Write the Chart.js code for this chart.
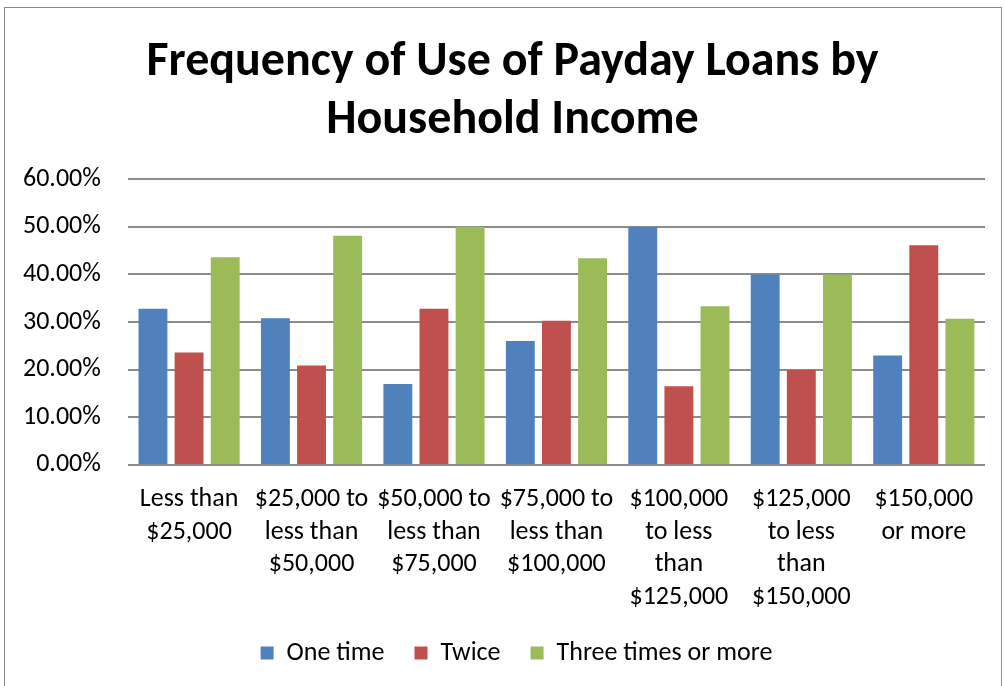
<!DOCTYPE html>
<html>
<head>
<meta charset="utf-8">
<script src="https://cdn.jsdelivr.net/npm/chart.js@4.4.1/dist/chart.umd.min.js"></script>
<style>
  body { margin: 0; background: #fff; }
  #frame {
    position: absolute; left: 4px; top: 7px;
    width: 996px; height: 700px;
    border: 1px solid #8c8c8c; border-bottom: none;
  }
  #wrap { position: absolute; left: 0; top: 0; width: 1005px; height: 686px; }
</style>
</head>
<body>
<div id="frame"></div>
<div id="wrap"><canvas id="chart" width="1005" height="686"></canvas></div>
<script>
// ---- DATA ----
const incomeGroups = [
    ['Less than', '$25,000'],
    ['$25,000 to', 'less than', '$50,000'],
    ['$50,000 to', 'less than', '$75,000'],
    ['$75,000 to', 'less than', '$100,000'],
    ['$100,000', 'to less', 'than', '$125,000'],
    ['$125,000', 'to less', 'than', '$150,000'],
    ['$150,000', 'or more']
];
const oneTime = [32.8, 30.8, 17.0, 26.0, 50.0, 40.0, 23.0];
const twice = [23.6, 20.9, 32.8, 30.3, 16.5, 20.0, 46.1];
const threeOrMore = [43.6, 48.1, 50.0, 43.4, 33.3, 40.0, 30.7];
const yTicks = [0, 10, 20, 30, 40, 50, 60];

const fontFamily = "Carlito, Lato, 'Open Sans', sans-serif";

// nudge title and legend to the right, like the original centring
const shiftBlocks = {
    id: 'shiftBlocks',
    afterLayout(chart) {
        chart.titleBlock.left += 19;
        chart.titleBlock.right += 19;
        chart.legend.left += 23;
        chart.legend.right += 23;
    }
};

new Chart(document.getElementById('chart').getContext('2d'), {
    type: 'bar',
    data: {
        labels: incomeGroups,
        datasets: [
            { label: 'One time', data: oneTime, backgroundColor: '#4f81bd' },
            { label: 'Twice', data: twice, backgroundColor: '#c0504d' },
            { label: 'Three times or more', data: threeOrMore, backgroundColor: '#9bbb59' }
        ]
    },
    plugins: [shiftBlocks],
    options: {
        responsive: false,
        animation: false,
        devicePixelRatio: 1,
        layout: { padding: { left: 2, right: 20, top: 10, bottom: 10 } },
        datasets: {
            bar: { categoryPercentage: 0.885, barPercentage: 0.8 }
        },
        plugins: {
            title: {
                display: true,
                text: ['Frequency of Use of Payday Loans by', 'Household Income'],
                color: '#000',
                font: { family: fontFamily, size: 48, weight: 'bold', lineHeight: 1.21 },
                padding: { top: 24, bottom: 29 }
            },
            legend: {
                position: 'bottom',
                labels: {
                    color: '#000',
                    boxWidth: 13,
                    boxHeight: 13,
                    padding: 30,
                    font: { family: fontFamily, size: 26 }
                }
            },
            tooltip: { enabled: false }
        },
        scales: {
            x: {
                grid: { display: false, drawTicks: false },
                border: { display: false },
                afterFit: (scale) => { scale.height -= 22; },
                ticks: {
                    color: '#000',
                    maxRotation: 0,
                    autoSkip: false,
                    padding: 18,
                    font: { family: fontFamily, size: 26, lineHeight: 1.26 }
                }
            },
            y: {
                min: 0,
                max: 60,
                afterBuildTicks: (axis) => { axis.ticks = yTicks.map(v => ({ value: v })); },
                afterFit: (scale) => { scale.width -= 6; },
                grid: { color: '#8c8c8c', lineWidth: 2, drawTicks: false },
                border: { display: false },
                ticks: {
                    color: '#000',
                    padding: 27,
                    font: { family: fontFamily, size: 26 },
                    callback: (v) => v.toFixed(2) + '%'
                }
            }
        }
    }
});
</script>
</body>
</html>
